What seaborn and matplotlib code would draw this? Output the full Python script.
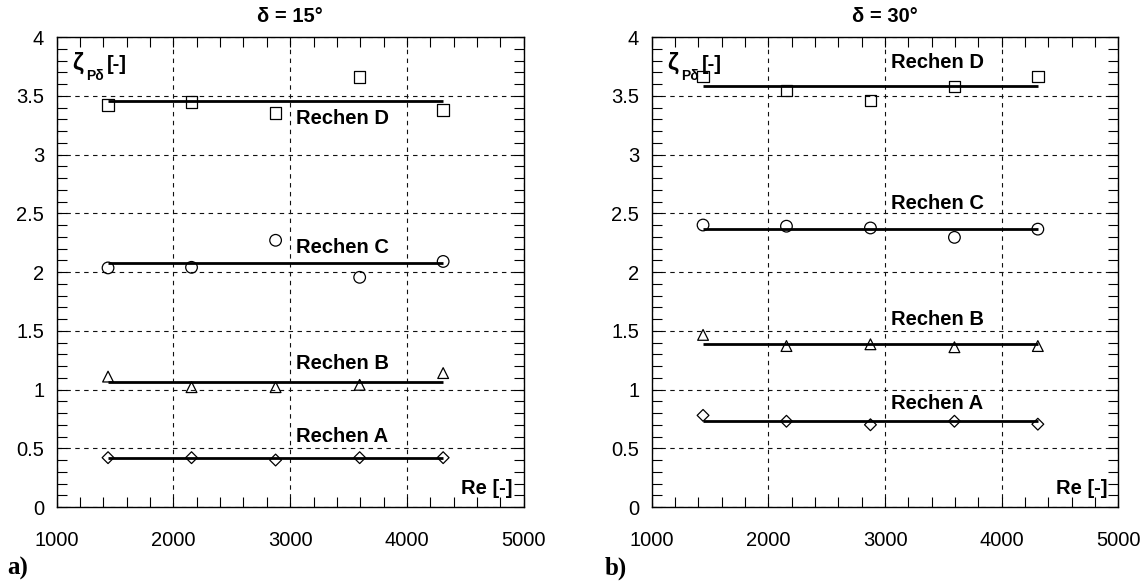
import matplotlib
matplotlib.use('Agg')
import matplotlib.pyplot as plt
from matplotlib.ticker import MultipleLocator
import seaborn as sns
import numpy as np
import pandas as pd

# Reynolds numbers of the measurements (same for both panels)
re_values = [1440, 2155, 2875, 3595, 4310]

# pressure loss coefficient zeta_P,delta for delta = 15 deg
zeta_15 = {
    'A': [0.42, 0.42, 0.40, 0.42, 0.42],
    'B': [1.11, 1.02, 1.02, 1.04, 1.14],
    'C': [2.035, 2.04, 2.27, 1.955, 2.09],
    'D': [3.42, 3.445, 3.355, 3.66, 3.38],
}
# ... and for delta = 30 deg
zeta_30 = {
    'A': [0.78, 0.73, 0.70, 0.73, 0.705],
    'B': [1.465, 1.37, 1.385, 1.36, 1.37],
    'C': [2.40, 2.39, 2.375, 2.295, 2.365],
    'D': [3.665, 3.545, 3.46, 3.58, 3.665],
}

panels = ['δ = 15°', 'δ = 30°']
panel_tags = ['a)', 'b)']
racks = ['A', 'B', 'C', 'D']
rack_markers = {'A': 'D', 'B': '^', 'C': 'o', 'D': 's'}
rack_sizes = {'A': 36, 'B': 60, 'C': 70, 'D': 70}

# label heights of the "Rechen X" texts
label_y_15 = [0.60, 1.22, 2.21, 3.31]
label_y_30 = [0.88, 1.60, 2.58, 3.78]

rows = []
for panel, data in zip(panels, [zeta_15, zeta_30]):
    for rack in racks:
        for re, z in zip(re_values, data[rack]):
            rows.append({'panel': panel, 'rack': rack, 'Re': re, 'zeta': z})
df = pd.DataFrame(rows)

sns.set_style("ticks")
plt.rcParams['font.family'] = ['Liberation Sans', 'DejaVu Sans']
plt.rcParams['font.size'] = 14.5
plt.rcParams['text.color'] = 'black'
plt.rcParams['xtick.color'] = 'black'
plt.rcParams['ytick.color'] = 'black'
plt.rcParams['axes.labelcolor'] = 'black'

fig = plt.figure(figsize=(11.47, 5.85), dpi=100)
ax_left = fig.add_axes([0.0494, 0.1333, 0.4072, 0.8034])
ax_right = fig.add_axes([0.5682, 0.1333, 0.4068, 0.8034])

for ax, panel, tag, label_ys in zip([ax_left, ax_right], panels, panel_tags,
                                    [label_y_15, label_y_30]):
    sub = df[df['panel'] == panel]
    for rack, ly in zip(racks, label_ys):
        d = sub[sub['rack'] == rack]
        sns.scatterplot(data=d, x='Re', y='zeta', marker=rack_markers[rack],
                        s=rack_sizes[rack], color='black', facecolor='none',
                        edgecolor='black', linewidth=0.9, ax=ax, zorder=4)
        # mean value line across the measured range
        ax.hlines(d['zeta'].mean(), d['Re'].min(), d['Re'].max(),
                  color='black', linewidth=2.0, zorder=3)
        ax.text(3050, ly, f'Rechen {rack}', fontsize=14.5, fontweight='bold',
                ha='left', va='center', zorder=5)

    ax.set_xlim(1000, 5000)
    ax.set_ylim(0, 4)
    ax.xaxis.set_major_locator(MultipleLocator(1000))
    ax.xaxis.set_minor_locator(MultipleLocator(200))
    ax.yaxis.set_minor_locator(MultipleLocator(0.1))
    ax.set_yticks(np.arange(0, 4.01, 0.5))
    ax.set_yticklabels(['0', '0.5', '1', '1.5', '2', '2.5', '3', '3.5', '4'])
    ax.tick_params(which='both', direction='in', top=True, right=True,
                   length=7, width=0.8, color='black', labelcolor='black')
    ax.tick_params(axis='x', which='major', pad=17, labelsize=14.5)
    ax.tick_params(axis='y', which='major', pad=9, labelsize=14.5)
    ax.grid(True, which='major', color='#111111', linestyle=(0, (4, 4)),
            linewidth=0.8)
    for sp in ax.spines.values():
        sp.set_color('black')
        sp.set_linewidth(1.0)
    ax.set_xlabel('')
    ax.set_ylabel('')
    ax.set_title(panel, fontsize=14.5, fontweight='bold', pad=11,
                 color='black')

    # axis captions inside the frame
    ax.text(0.033, 0.93, 'ζ', transform=ax.transAxes, fontsize=17,
            fontweight='bold', ha='left', va='baseline')
    ax.text(0.063, 0.908, 'Pδ', transform=ax.transAxes, fontsize=10,
            fontweight='bold', ha='left', va='baseline')
    ax.text(0.108, 0.93, '[-]', transform=ax.transAxes, fontsize=14.5,
            fontweight='bold', ha='left', va='baseline')
    ax.text(0.977, 0.04, 'Re [-]', transform=ax.transAxes, fontsize=14.5,
            fontweight='bold', ha='right', va='center')

fig.text(0.006, 0.029, 'a)', fontsize=18, fontweight='bold',
         family=['Liberation Serif', 'DejaVu Serif'], ha='left', va='center')
fig.text(0.527, 0.029, 'b)', fontsize=18, fontweight='bold',
         family=['Liberation Serif', 'DejaVu Serif'], ha='left', va='center')

fig.savefig('out.png', dpi=100)
plt.close(fig)
